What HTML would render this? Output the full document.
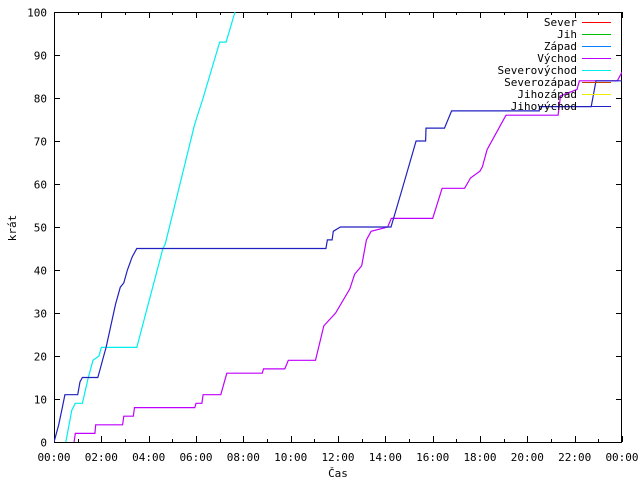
<!DOCTYPE html>
<html><head><meta charset="utf-8"><style>
html,body{margin:0;padding:0;background:#fff}
svg text{font-family:"DejaVu Sans Mono","Liberation Mono",monospace;font-size:11px;fill:#000}
</style></head><body>
<svg id="chart" width="640" height="480" xmlns="http://www.w3.org/2000/svg">
<rect x="0" y="0" width="640" height="480" fill="#fff"/>
<g id="axes"></g>
<g id="series"></g>
<g id="legend"></g>
</svg>
<script>
const xTickLabels=["00:00","02:00","04:00","06:00","08:00","10:00","12:00","14:00","16:00","18:00","20:00","22:00","00:00"];
const yTickLabels=[0,10,20,30,40,50,60,70,80,90,100];
const legendNames=["Sever","Jih","Západ","Východ","Severovýchod","Severozápad","Jihozápad","Jihovýchod"];
const legendColors=["#ff0000","#00c000","#0080ff","#c000ff","#00eeee","#c04000","#eeee00","#2020c0"];
// series: hours, values
const blueHours=[0,0.05,0.2,0.35,0.46,1.0,1.1,1.2,1.85,1.95,2.1,2.2,2.4,2.6,2.8,2.95,3.1,3.3,3.5,11.49,11.55,11.75,11.8,12.1,14.24,14.7,15.3,15.7,15.72,16.5,16.8,20.5,20.52,22.7,22.9,24];
const blueValues=[0,1,4,8,11,11,14,15,15,17,20,22,27,32,36,37,40,43,45,45,47,47,49,50,50,58.6,70,70,73,73,77,77,78,78,84,84];
const magentaHours=[0.85,0.9,1.73,1.76,2.9,2.95,3.35,3.4,5.95,6.0,6.25,6.3,7.05,7.3,8.8,8.85,9.75,9.9,11.05,11.4,11.9,12.5,12.7,13.0,13.2,13.4,14.1,14.25,16.0,16.4,17.35,17.6,18.0,18.1,18.3,19.1,21.3,21.4,22.1,22.2,23.8,24];
const magentaValues=[0,2,2,4,4,6,6,8,8,9,9,11,11,16,16,17,17,19,19,27,30,35.6,39,41,47,49,50,52,52,59,59,61.4,63,64,68,76,76,80.5,82,84,84,86];
const cyanHours=[0.5,0.75,0.9,1.2,1.45,1.65,1.9,2.0,3.5,4.6,4.7,5.95,6.3,7.0,7.27,7.65];
const cyanValues=[0,7.4,9,9,15,19,20,22,22,45,46,74,80,93,93,100];

const X0=54,X1=622,Y0=442,Y1=12;
const xs=h=>X0+(X1-X0)*h/24;
const ys=v=>Y0-(Y0-Y1)*v/100;
const NS="http://www.w3.org/2000/svg";
function mk(tag,attrs,parent){const e=document.createElementNS(NS,tag);for(const k in attrs)e.setAttribute(k,attrs[k]);parent.appendChild(e);return e;}
const axes=document.getElementById('axes');
const frame=mk('rect',{x:X0+0.5,y:Y1+0.5,width:X1-X0-1,height:Y0-Y1,fill:'none',stroke:'#000','stroke-width':1},axes);


for(let h=0;h<=24;h++){
  const x=Math.round(xs(h))+0.5;const len=(h%2==0)?6:3;
  const t1=mk('line',{x1:x,x2:x,y1:Y0,y2:Y0-len,stroke:'#000'},axes);
  
  
  const t2=mk('line',{x1:x,x2:x,y1:Y1,y2:Y1+len,stroke:'#000'},axes);
  
  
}
xTickLabels.forEach((s,i)=>{
  const t=mk('text',{x:xs(i*2),y:461,'text-anchor':'middle'},axes);t.textContent=s;
  
  
});
yTickLabels.forEach(v=>{
  const y=Math.round(ys(v))+0.5;
  const a=mk('line',{x1:X0,x2:X0+6,y1:y,y2:y,stroke:'#000'},axes);
  
  
  const b=mk('line',{x1:X1-6,x2:X1,y1:y,y2:y,stroke:'#000'},axes);
  
  
  const t=mk('text',{x:47,y:y+4,'text-anchor':'end'},axes);t.textContent=v;
  
  
});
const xt=mk('text',{x:338,y:477,'text-anchor':'middle'},axes);xt.textContent='Čas';


const yt=mk('text',{x:16,y:228,'text-anchor':'middle',transform:'rotate(-90 16 228)'},axes);yt.textContent='krát';



const ser=document.getElementById('series');
const clip=mk('clipPath',{id:'pc'},ser);mk('rect',{x:X0,y:Y1,width:X1-X0,height:Y0-Y1},clip);
function line(hs,vs,color,name){
  const pts=hs.map((h,i)=>xs(h).toFixed(1)+','+ys(vs[i]).toFixed(1)).join(' ');
  const p=mk('polyline',{points:pts,fill:'none',stroke:color,'stroke-width':1.2,'clip-path':'url(#pc)'},ser);
  
  
}
line(cyanHours,cyanValues,'#00eeee','severovychod-line');
line(magentaHours,magentaValues,'#c000ff','vychod-line');
line(blueHours,blueValues,'#2020c0','jihovychod-line');

const leg=document.getElementById('legend');
legendNames.forEach((n,i)=>{
  const y=22+i*12;
  const t=mk('text',{x:577,y:y+4,'text-anchor':'end'},leg);t.textContent=n;
  
  
  const l=mk('line',{x1:582,x2:611,y1:y+0.5,y2:y+0.5,stroke:legendColors[i]},leg);
  
  
});
</script>
</body></html>
